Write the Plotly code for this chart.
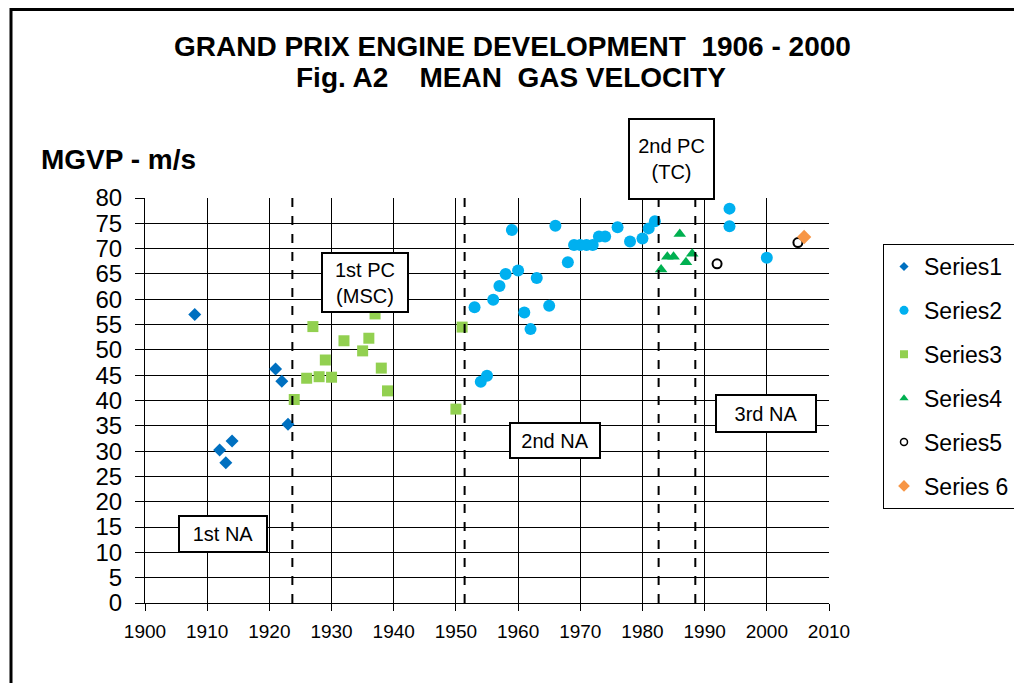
import plotly.graph_objects as go

# ---- data ----
s1_year = [1908, 1912, 1913, 1914, 1921, 1922, 1923]
s1_mgvp = [57.0, 30.2, 27.7, 32.0, 46.2, 43.8, 35.3]

s2_year = [1953, 1954, 1955, 1956, 1957, 1958, 1959, 1960, 1961, 1962, 1963, 1965, 1966,
           1968, 1969, 1970, 1971, 1972, 1973, 1974, 1976, 1978, 1980, 1981, 1982,
           1994, 1994, 2000]
s2_mgvp = [58.4, 43.7, 44.9, 59.9, 62.6, 65.0, 73.7, 65.7, 57.4, 54.1, 64.2, 58.7, 74.5,
           67.3, 70.7, 70.7, 70.7, 70.7, 72.4, 72.4, 74.2, 71.4, 72.0, 74.0, 75.4,
           77.9, 74.4, 68.2]

s3_year = [1924, 1926, 1927, 1928, 1929, 1930, 1932, 1935, 1936, 1937, 1938, 1939, 1950, 1951]
s3_mgvp = [40.2, 44.4, 54.6, 44.7, 48.0, 44.6, 51.8, 49.8, 52.3, 57.1, 46.4, 41.9, 38.3, 54.5]

s4_year = [1983, 1984, 1985, 1986, 1987, 1988]
s4_mgvp = [65.9, 68.4, 68.4, 72.9, 67.3, 69.0]

s5_year = [1992, 2005]
s5_mgvp = [67.0, 71.2]

s6_year = [2006]
s6_mgvp = [72.3]

era_lines = [1923.7, 1951.4, 1982.6, 1988.5]
x_ticks = list(range(1900, 2011, 10))
y_ticks = list(range(0, 81, 5))

FONT = "Liberation Sans, Arial, sans-serif"

series = [
    ("Series1", s1_year, s1_mgvp, dict(symbol="diamond", size=10, color="#0070C0"), 7),
    ("Series2", s2_year, s2_mgvp, dict(symbol="circle", size=12, color="#00B0F0"), 9),
    ("Series3", s3_year, s3_mgvp, dict(symbol="square", size=11, color="#92D050"), 8),
    ("Series4", s4_year, s4_mgvp, dict(symbol="triangle-up", size=11, color="#00B050"), 8),
    ("Series5", s5_year, s5_mgvp, dict(symbol="circle-open", size=9, color="black",
                                       line=dict(width=2, color="black")), 7),
    ("Series 6", s6_year, s6_mgvp, dict(symbol="diamond", size=11, color="#F79646"), 9),
]

fig = go.Figure()
for name, xs, ys, mk, lsize in series:
    m = dict(mk)
    if "line" not in m:
        m["line"] = dict(width=0)
    fig.add_trace(go.Scatter(x=xs, y=ys, mode="markers", marker=m, name=name,
                             showlegend=False, hoverinfo="x+y"))
for name, xs, ys, mk, lsize in series:
    m = dict(mk)
    m["size"] = lsize
    if "line" not in m:
        m["line"] = dict(width=0)
    else:
        m["line"] = dict(width=1.5, color="black")
    fig.add_trace(go.Scatter(x=[None], y=[None], mode="markers", marker=m, name=name,
                             legendgroup=name, showlegend=True))

W, H = 1022, 683
L, T = 137, 190
pw, ph = 684, 405
R, B = W - L - pw, H - T - ph
DX, DY = -7, -8   # global offset applied to pixel targets outside plot

def px2paperx(px):
    return (px + DX - L) / pw

def px2papery(py):
    return (H - B - (py + DY)) / ph

shapes = []
for xv in era_lines:
    shapes.append(dict(type="line", xref="x", yref="y", x0=xv, x1=xv, y0=0, y1=80,
                       line=dict(color="black", width=2, dash="dash"), layer="above"))
# outer chart border
shapes.append(dict(type="rect", xref="paper", yref="paper",
                   x0=px2paperx(10), x1=px2paperx(1060), y0=px2papery(720), y1=px2papery(9.5),
                   line=dict(color="black", width=3), fillcolor="rgba(0,0,0,0)", layer="below"))

Y_MAX = 80.0
boxes = [
    ("1st NA", 1912.5, 13.7, 86, 34),
    ("1st PC<br>(MSC)", 1935.4, 63.3, 84, 57),
    ("2nd NA", 1965.9, 32.1, 88, 33),
    ("2nd PC<br>(TC)", 1984.6, 87.7, 83, 78),
    ("3rd NA", 1999.8, 37.4, 98, 35),
]
annotations = []
for txt, xv, yv, w, h in boxes:
    # boxes above the axis range are placed in paper units so they stay visible
    if yv > Y_MAX:
        yref, yy = "paper", yv / Y_MAX
    else:
        yref, yy = "y", yv
    annotations.append(dict(text=txt, x=xv, y=yy, xref="x", yref=yref, showarrow=False,
                            width=w, height=h, bgcolor="white", bordercolor="black",
                            borderwidth=2, borderpad=0,
                            font=dict(family=FONT, size=20, color="black"),
                            xanchor="center", yanchor="middle"))

annotations.append(dict(text="<b>GRAND PRIX ENGINE DEVELOPMENT  1906 - 2000</b>",
                        xref="paper", yref="paper", x=px2paperx(511), y=px2papery(47),
                        showarrow=False, xanchor="center", yanchor="middle",
                        font=dict(family=FONT, size=28, color="black")))
annotations.append(dict(text="<b>Fig. A2    MEAN  GAS VELOCITY</b>",
                        xref="paper", yref="paper", x=px2paperx(510), y=px2papery(77),
                        showarrow=False, xanchor="center", yanchor="middle",
                        font=dict(family=FONT, size=28, color="black")))
annotations.append(dict(text="<b>MGVP - m/s</b>", xref="paper", yref="paper",
                        x=px2paperx(38), y=px2papery(160), showarrow=False,
                        xanchor="left", yanchor="middle",
                        font=dict(family=FONT, size=28, color="black")))

fig.update_layout(
    width=W, height=H,
    margin=dict(l=L, r=R, t=T, b=B, autoexpand=False),
    paper_bgcolor="white", plot_bgcolor="white",
    shapes=shapes, annotations=annotations,
    showlegend=True,
    legend=dict(x=px2paperx(882), y=px2papery(244), xanchor="left", yanchor="top",
                bordercolor="black", borderwidth=1, bgcolor="white",
                font=dict(family=FONT, size=23, color="black"),
                tracegroupgap=11, traceorder="grouped", itemsizing="trace"),
    xaxis=dict(range=[1900, 2010], tickvals=x_ticks, ticktext=[str(v) for v in x_ticks],
               showgrid=True, gridcolor="black", gridwidth=1, zeroline=False,
               showline=True, linecolor="black", linewidth=1,
               ticks="outside", ticklen=7, tickcolor="black", ticklabelstandoff=4,
               tickfont=dict(family=FONT, size=19, color="black")),
    yaxis=dict(range=[0, 80], tickvals=y_ticks, ticktext=[str(v) for v in y_ticks],
               showgrid=True, gridcolor="black", gridwidth=1, zeroline=False,
               showline=True, linecolor="black", linewidth=1,
               ticks="outside", ticklen=9, tickcolor="black", ticklabelstandoff=8,
               tickfont=dict(family=FONT, size=24, color="black")),
)

fig.write_html("out.html")
